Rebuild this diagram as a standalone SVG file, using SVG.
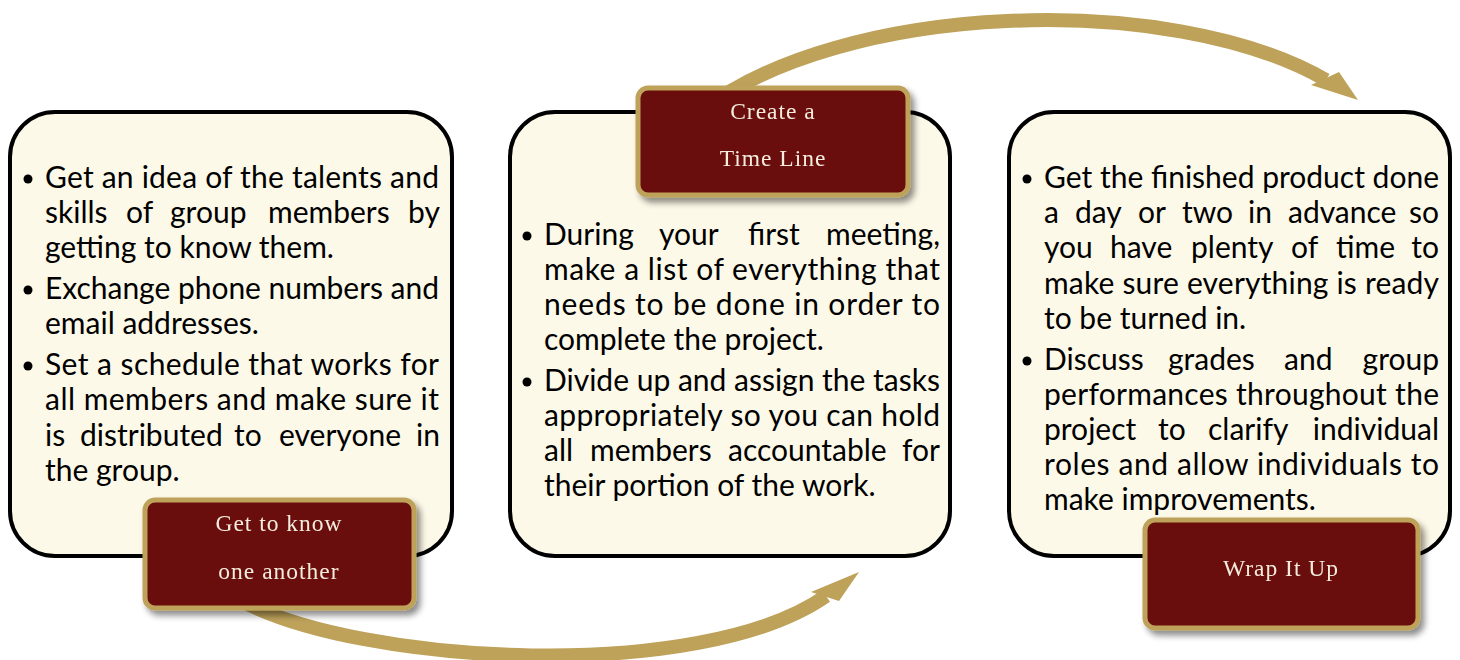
<svg xmlns="http://www.w3.org/2000/svg" width="1460" height="660" viewBox="0 0 1460 660">
<style>
.card{fill:#fdf9e8;stroke:#000;stroke-width:4}
.lab{fill:#6b1111;stroke:#bea25a;stroke-width:5}
.lt{font-family:"Liberation Serif",serif;font-size:23.5px;fill:#f4ecdc;text-anchor:middle;letter-spacing:1px}
.bt{font-family:Lato,"Noto Sans",sans-serif;font-size:30px;fill:#000}
.e{text-anchor:end}
.dot{fill:#000}
.arc{fill:none;stroke:#bea25a;stroke-width:14}
.head{fill:#bea25a}
</style>
<defs>
<filter id="sh" x="-10%" y="-10%" width="130%" height="140%">
<feDropShadow dx="4" dy="5" stdDeviation="3" flood-color="#000" flood-opacity="0.45"/>
</filter>
</defs>
<rect width="1460" height="660" fill="#fff"/>
<g id="connectors">
<path class="arc" d="M700,112 C840,2 1170,-10 1326,80"/>
<polygon class="head" points="1311,85 1358,100 1339,72"/>
<path class="arc" d="M240,600 C360,665 700,684 826,596"/>
<polygon class="head" points="811,592 859,572 839,601"/>
</g>
<g id="card1">
<rect class="card" x="10" y="112" width="442" height="444" rx="45"/>
<circle class="dot" cx="28" cy="179" r="4.5"/>
<text class="bt" x="45" y="188" textLength="394" lengthAdjust="spacing">Get an idea of the talents and</text>
<text class="bt" y="223"><tspan x="45">skills</tspan><tspan x="126">of</tspan><tspan x="170">group</tspan><tspan x="268">members</tspan></text>
<text class="bt e" x="440" y="223">by</text>
<text class="bt" x="45" y="258">getting to know them.</text>
<circle class="dot" cx="28" cy="290" r="4.5"/>
<text class="bt" x="45" y="299" textLength="394" lengthAdjust="spacing">Exchange phone numbers and</text>
<text class="bt" x="45" y="334">email addresses.</text>
<circle class="dot" cx="28" cy="366" r="4.5"/>
<text class="bt" x="45" y="375" textLength="394" lengthAdjust="spacing">Set a schedule that works for</text>
<text class="bt" x="45" y="410" textLength="394" lengthAdjust="spacing">all members and make sure it</text>
<text class="bt" y="446"><tspan x="45">is</tspan><tspan x="80">distributed</tspan><tspan x="234">to</tspan><tspan x="279">everyone</tspan></text>
<text class="bt e" x="440" y="446">in</text>
<text class="bt" x="45" y="481">the group.</text>
</g>
<g id="card2">
<rect class="card" x="510" y="112" width="440" height="444" rx="45"/>
<circle class="dot" cx="527" cy="236" r="4.5"/>
<text class="bt" y="245"><tspan x="544">During</tspan><tspan x="659">your</tspan><tspan x="748">first</tspan></text>
<text class="bt e" x="940" y="245">meeting,</text>
<text class="bt" x="544" y="280" textLength="396" lengthAdjust="spacing">make a list of everything that</text>
<text class="bt" x="544" y="315" textLength="396" lengthAdjust="spacing">needs to be done in order to</text>
<text class="bt" x="544" y="350">complete the project.</text>
<circle class="dot" cx="527" cy="382" r="4.5"/>
<text class="bt" x="544" y="391" textLength="396" lengthAdjust="spacing">Divide up and assign the tasks</text>
<text class="bt" x="544" y="426" textLength="396" lengthAdjust="spacing">appropriately so you can hold</text>
<text class="bt" y="461"><tspan x="544">all</tspan><tspan x="590">members</tspan><tspan x="728">accountable</tspan></text>
<text class="bt e" x="940" y="461">for</text>
<text class="bt" x="544" y="496">their portion of the work.</text>
</g>
<g id="card3">
<rect class="card" x="1009" y="112" width="441" height="444" rx="45"/>
<circle class="dot" cx="1027" cy="179" r="4.5"/>
<text class="bt" x="1044" y="188" textLength="395" lengthAdjust="spacing">Get the finished product done</text>
<text class="bt" y="223"><tspan x="1044">a</tspan><tspan x="1075">day</tspan><tspan x="1138">or</tspan><tspan x="1182">two</tspan><tspan x="1248">in</tspan><tspan x="1288">advance</tspan></text>
<text class="bt e" x="1439" y="223">so</text>
<text class="bt" y="258"><tspan x="1044">you</tspan><tspan x="1110">have</tspan><tspan x="1191">plenty</tspan><tspan x="1291">of</tspan><tspan x="1336">time</tspan></text>
<text class="bt e" x="1439" y="258">to</text>
<text class="bt" x="1044" y="294" textLength="395" lengthAdjust="spacing">make sure everything is ready</text>
<text class="bt" x="1044" y="329">to be turned in.</text>
<circle class="dot" cx="1027" cy="361" r="4.5"/>
<text class="bt" y="370"><tspan x="1044">Discuss</tspan><tspan x="1168">grades</tspan><tspan x="1284">and</tspan></text>
<text class="bt e" x="1439" y="370">group</text>
<text class="bt" x="1044" y="405" textLength="395" lengthAdjust="spacing">performances throughout the</text>
<text class="bt" y="440"><tspan x="1044">project</tspan><tspan x="1158">to</tspan><tspan x="1208">clarify</tspan></text>
<text class="bt e" x="1439" y="440">individual</text>
<text class="bt" x="1044" y="475" textLength="395" lengthAdjust="spacing">roles and allow individuals to</text>
<text class="bt" x="1044" y="510">make improvements.</text>
</g>
<g id="label1" filter="url(#sh)">
<rect class="lab" x="145" y="500" width="269" height="108" rx="10"/>
<text class="lt" x="279" y="531">Get to know</text>
<text class="lt" x="279" y="579">one another</text>
</g>
<g id="label2" filter="url(#sh)">
<rect class="lab" x="638" y="88" width="270" height="107" rx="10"/>
<text class="lt" x="773" y="119">Create a</text>
<text class="lt" x="773" y="166">Time Line</text>
</g>
<g id="label3" filter="url(#sh)">
<rect class="lab" x="1145" y="520" width="273" height="108" rx="10"/>
<text class="lt" x="1281" y="576">Wrap It Up</text>
</g>
</svg>
